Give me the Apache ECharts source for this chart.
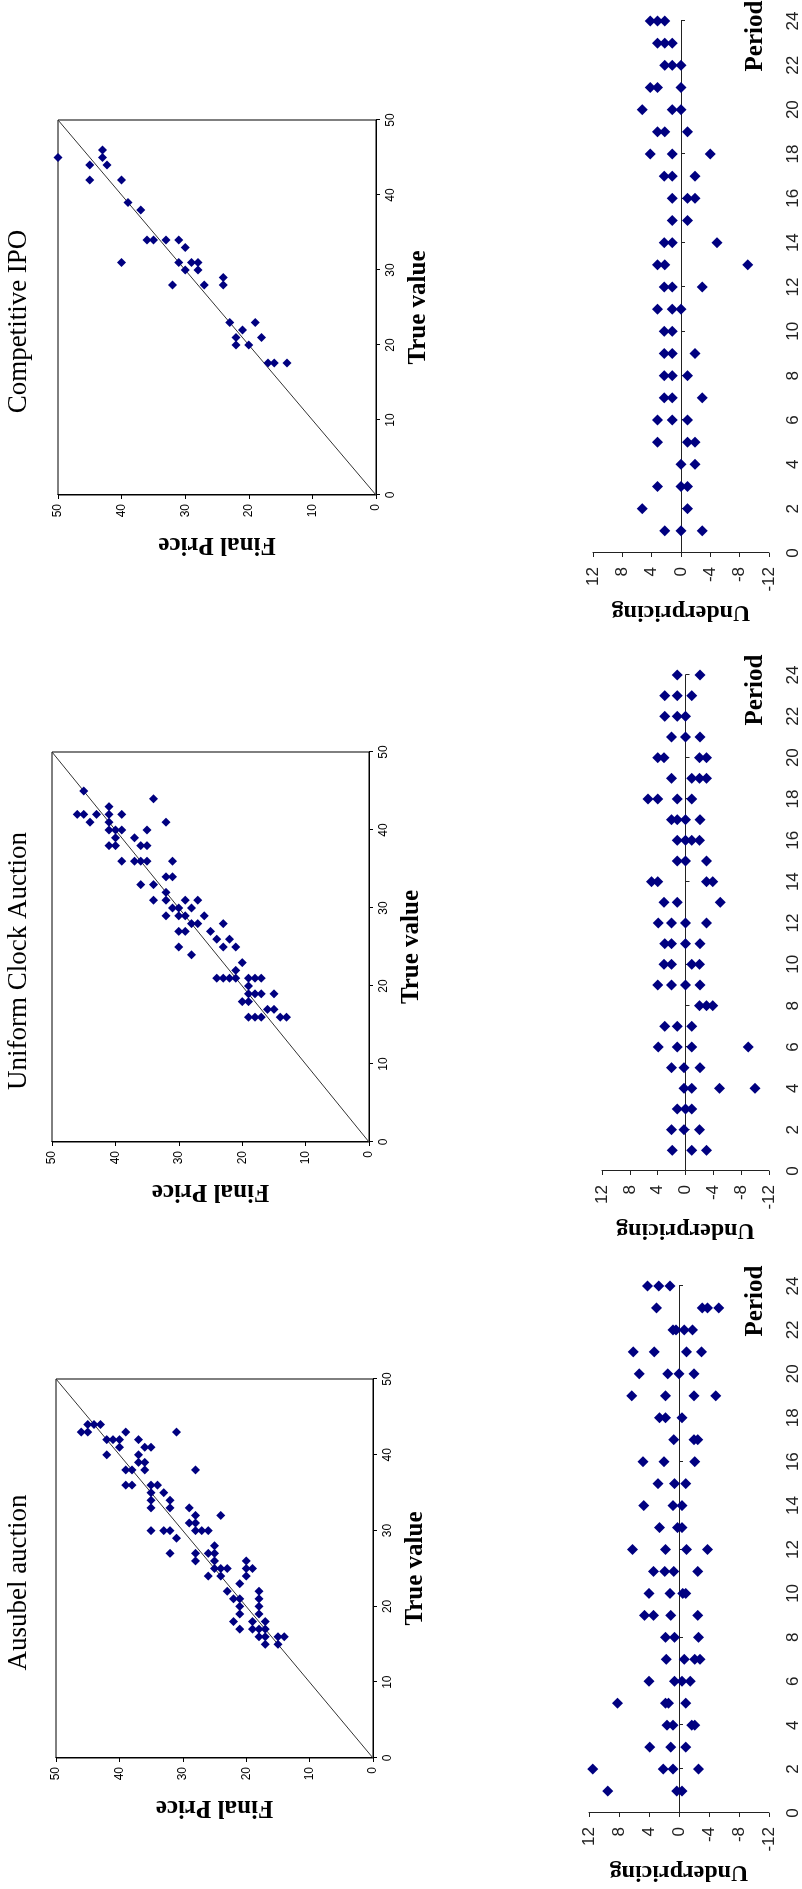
<!DOCTYPE html>
<html>
<head>
<meta charset="utf-8">
<title>Final price vs true value, underpricing by period</title>
<script src="https://cdn.jsdelivr.net/npm/echarts@6/dist/echarts.min.js"></script>
<style>
  html, body { margin: 0; padding: 0; background: #fff; width: 802px; height: 1889px; overflow: hidden; }
  /* the figure is laid out landscape, then turned a quarter turn to the left like the scan */
  #chart { position: absolute; left: 0; top: 0; width: 1889px; height: 802px;
           transform-origin: 0 0; transform: translateY(1889px) rotate(-90deg); }
</style>
</head>
<body>
<div id="chart"></div>
<script>
// panel titles
const panelTitles = ['Ausubel auction', 'Uniform Clock Auction', 'Competitive IPO'];

// [true value, final price]
const ausubelPrices = [
  [43,46],[43,45],[44,45],[44,44],[44,43],[42,42],[42,41],[42,40],[40,42],[41,40],[43,39],[43,31],
  [42,37],[40,37],[39,37],[39,36],[38,36],[38,39],[38,38],[41,36],[41,35],[36,39],[36,38],[36,35],
  [36,34],[35,35],[34,35],[33,35],[35,33],[34,32],[33,32],[30,35],[30,33],[30,32],[29,31],[27,32],
  [38,28],[33,29],[32,28],[31,29],[31,28],[30,27],[30,26],[30,28],[32,24],[27,28],[26,28],[27,26],
  [28,25],[27,25],[26,25],[25,25],[24,26],[25,24],[25,23],[24,24],[22,23],[21,22],[21,21],[23,21],
  [20,21],[19,21],[18,22],[17,21],[26,20],[24,20],[25,20],[25,19],[22,18],[21,18],[20,18],[19,18],
  [18,19],[17,19],[17,18],[16,18],[18,17],[17,17],[16,17],[15,17],[16,15],[16,14],[15,15]
];
const uniformPrices = [
  [45,45],[42,46],[42,45],[41,44],[42,43],[43,41],[42,41],[41,41],[40,41],[40,40],[39,40],[38,41],
  [38,40],[42,39],[40,39],[36,39],[39,37],[36,37],[36,36],[36,35],[38,36],[38,35],[40,35],[44,34],
  [41,32],[33,36],[33,34],[31,34],[34,32],[34,31],[32,32],[31,32],[36,31],[30,31],[29,32],[30,30],
  [29,30],[31,29],[27,30],[27,29],[25,30],[29,29],[30,28],[28,28],[28,27],[31,27],[24,28],[29,26],
  [27,25],[26,24],[28,23],[25,23],[26,22],[25,21],[23,20],[22,21],[21,24],[21,23],[21,22],[21,21],
  [21,19],[21,18],[21,17],[20,19],[19,19],[19,18],[19,17],[19,15],[18,20],[18,19],[17,16],[17,15],
  [16,19],[16,18],[16,17],[16,14],[16,13]
];
const ipoPrices = [
  [45,50],[46,43],[45,43],[44,45],[44,42.3],[42,45],[42,40],[39,39],[38,37],[34,36],[34,35],[34,33],
  [34,31],[33,30],[31,40],[31,31],[31,29],[31,28],[30,30],[30,28],[28,32],[28,27],[29,24],[28,24],
  [23,23],[23,19],[22,21],[21,22],[21,18],[20,22],[20,20],[17.6,17],[17.6,16],[17.6,14]
];
// 45 degree reference line
const diagonal = [[0, 0], [50, 50]];

// [period, underpricing]
const ausubelUnder = [
  [1,9.5],[1,0.3],[1,-0.4],[2,11.5],[2,2.1],[2,0.8],[2,-2.6],[3,3.9],[3,1.1],[3,-0.9],
  [4,1.6],[4,0.8],[4,-1.7],[4,-2.1],[5,8.2],[5,1.8],[5,1.4],[5,-0.9],[6,4.0],[6,0.6],[6,-0.4],[6,-1.5],
  [7,1.7],[7,-0.7],[7,-2.1],[7,-2.8],[8,1.8],[8,0.6],[8,-2.6],[9,4.6],[9,3.4],[9,1.1],[9,-2.5],
  [10,4.0],[10,1.2],[10,-0.5],[10,-0.9],[11,3.4],[11,1.9],[11,0.7],[11,-2.5],[12,6.2],[12,1.8],[12,-1.0],[12,-3.8],
  [13,2.6],[13,0.2],[13,-0.4],[14,4.7],[14,0.8],[14,-0.4],[15,2.8],[15,0.6],[15,-0.9],
  [16,4.8],[16,2.0],[16,-2.1],[17,0.7],[17,-2.0],[17,-2.5],[18,2.6],[18,1.8],[18,-0.4],
  [19,6.3],[19,1.8],[19,-2.0],[19,-4.9],[20,5.3],[20,1.5],[20,0],[20,-2.0],[21,6.1],[21,3.3],[21,-1.0],[21,-3.0],
  [22,0.8],[22,0.4],[22,-0.7],[22,-1.8],[23,3.0],[23,-3.1],[23,-3.8],[23,-5.3],[24,4.2],[24,2.7],[24,1.2]
];
const uniformUnder = [
  [1,1.9],[1,-0.9],[1,-3.0],[2,2.0],[2,0.2],[2,-2.0],[3,1.2],[3,0],[3,-0.9],
  [4,0.2],[4,-0.9],[4,-4.9],[4,-10.0],[5,2.0],[5,0.2],[5,-2.1],[6,3.9],[6,1.2],[6,-0.9],[6,-9.0],
  [7,3.0],[7,1.2],[7,-0.9],[8,-2.0],[8,-3.0],[8,-3.9],[9,4.0],[9,2.0],[9,0],[9,-2.1],
  [10,3.1],[10,2.0],[10,-0.9],[10,-2.0],[11,3.0],[11,2.0],[11,0],[11,-2.1],[12,3.9],[12,2.0],[12,0],[12,-3.0],
  [13,3.1],[13,1.2],[13,-5.0],[14,4.9],[14,4.0],[14,-3.0],[14,-3.9],[15,1.2],[15,0],[15,-3.0],
  [16,1.2],[16,0],[16,-0.9],[16,-2.0],[17,2.0],[17,1.2],[17,0],[17,-2.1],[18,5.4],[18,4.0],[18,1.2],[18,-0.9],
  [19,2.0],[19,-0.9],[19,-2.0],[19,-3.0],[20,4.0],[20,3.1],[20,-2.0],[20,-3.0],[21,2.0],[21,0],[21,-2.1],
  [22,3.0],[22,1.2],[22,0],[23,3.0],[23,1.2],[23,-0.9],[24,1.2],[24,-2.1]
];
const ipoUnder = [
  [1,2.2],[1,0],[1,-2.9],[2,5.3],[2,-0.9],[3,3.2],[3,0],[3,-0.9],[4,0],[4,-1.9],
  [5,3.2],[5,-0.9],[5,-1.9],[6,3.2],[6,1.2],[6,-0.9],[7,2.3],[7,1.2],[7,-2.9],[8,2.3],[8,1.2],[8,-0.9],
  [9,2.3],[9,1.2],[9,-1.9],[10,2.3],[10,1.2],[11,3.2],[11,1.2],[11,0],[12,2.3],[12,1.2],[12,-2.9],
  [13,3.2],[13,2.2],[13,-9.1],[14,2.3],[14,1.2],[14,-4.9],[15,1.2],[15,-0.9],[16,1.2],[16,-0.9],[16,-1.9],
  [17,2.3],[17,1.2],[17,-1.9],[18,4.2],[18,1.2],[18,-4.0],[19,3.2],[19,2.2],[19,-0.9],
  [20,5.3],[20,1.2],[20,0],[21,4.2],[21,3.2],[21,0],[22,2.2],[22,1.2],[22,0],[23,3.2],[23,2.2],[23,1.2],
  [24,4.2],[24,3.2],[24,2.2]
];

const navy = '#000080';
const serif = '"Liberation Serif", "Times New Roman", serif';
const narrow = '"Liberation Sans Narrow", "Arial Narrow", "Liberation Sans", sans-serif';

const chart = echarts.init(document.getElementById('chart'));

// panel boxes, in the unrotated landscape frame
const priceGrids = [
  { left: 131, top: 56, width: 379, height: 317 },
  { left: 747, top: 52, width: 390, height: 317 },
  { left: 1394, top: 58, width: 375, height: 318 }
];
const underGrids = [
  { left: 76, top: 589, width: 527, height: 199 },
  { left: 718, top: 602, width: 496, height: 172 },
  { left: 1336, top: 593, width: 532, height: 196 }
];

const grids = [];
const xAxes = [];
const yAxes = [];
const series = [];

priceGrids.forEach((g, i) => {
  grids.push(Object.assign({ show: true, borderColor: '#000', borderWidth: 1, containLabel: false }, g));
  xAxes.push({
    gridIndex: i, type: 'value', min: 0, max: 50, interval: 10,
    name: 'True value', nameLocation: 'middle', nameGap: 30,
    nameTextStyle: { fontFamily: serif, fontSize: 25, fontWeight: 'bold', color: '#000' },
    axisLine: { lineStyle: { color: '#000', width: 1 } },
    axisTick: { length: 4, lineStyle: { color: '#000' } },
    axisLabel: { fontFamily: narrow, fontSize: 12, color: '#000', margin: 9 },
    splitLine: { show: false }
  });
  yAxes.push({
    gridIndex: i, type: 'value', min: 0, max: 50, interval: 10,
    name: 'Final Price', nameLocation: 'middle', nameGap: 37,
    nameTextStyle: { fontFamily: serif, fontSize: 25, fontWeight: 'bold', color: '#000' },
    axisLine: { show: true, lineStyle: { color: '#000', width: 1 } },
    axisTick: { show: true, length: 4, lineStyle: { color: '#000' } },
    axisLabel: { fontFamily: narrow, fontSize: 12, color: '#000', margin: 9 },
    splitLine: { show: false }
  });
});

underGrids.forEach((g, i) => {
  grids.push(Object.assign({ show: false, containLabel: false }, g));
  xAxes.push({
    gridIndex: 3 + i, type: 'value', min: 0, max: 24, interval: 2,
    axisLine: { onZero: true, lineStyle: { color: '#222', width: 1 } },
    axisTick: { length: 4, lineStyle: { color: '#222' } },
    axisLabel: { fontFamily: narrow, fontSize: 17, color: '#222', margin: 16 },
    splitLine: { show: false }
  });
  yAxes.push({
    gridIndex: 3 + i, type: 'value', min: -12, max: 12, interval: 4,
    name: 'Underpricing', nameLocation: 'middle', nameGap: 47,
    nameTextStyle: { fontFamily: serif, fontSize: 24, fontWeight: 'bold', color: '#000' },
    axisLine: { show: true, onZero: false, lineStyle: { color: '#222', width: 1 } },
    axisTick: { show: true, length: 4, lineStyle: { color: '#222' } },
    axisLabel: { fontFamily: narrow, fontSize: 17, color: '#222', margin: 14 },
    splitLine: { show: false }
  });
});

[ausubelPrices, uniformPrices, ipoPrices].forEach((d, i) => {
  series.push({
    type: 'line', xAxisIndex: i, yAxisIndex: i, data: diagonal,
    symbol: 'none', silent: true, z: 1,
    lineStyle: { color: '#333', width: 1 }
  });
  series.push({
    type: 'scatter', xAxisIndex: i, yAxisIndex: i, data: d,
    symbol: 'diamond', symbolSize: 9, itemStyle: { color: navy, opacity: 1 }, z: 2
  });
});

[ausubelUnder, uniformUnder, ipoUnder].forEach((d, i) => {
  series.push({
    type: 'scatter', xAxisIndex: 3 + i, yAxisIndex: 3 + i, data: d,
    symbol: 'diamond', symbolSize: 11, itemStyle: { color: navy, opacity: 1 }
  });
});

// titles above each price panel, and the "Period" caption under each time axis
const graphics = [];
priceGrids.forEach((g, i) => {
  graphics.push({
    type: 'text', position: [g.left + g.width / 2 - 14, 19],
    style: { text: panelTitles[i], font: '27px ' + serif, fill: '#000',
             textAlign: 'center', textVerticalAlign: 'middle' }
  });
});
underGrids.forEach((g) => {
  graphics.push({
    type: 'text', position: [g.left + g.width - 15, 756],
    style: { text: 'Period', font: 'bold 25px ' + serif, fill: '#000',
             textAlign: 'center', textVerticalAlign: 'middle' }
  });
});

chart.setOption({
  backgroundColor: '#fff',
  animation: false,
  grid: grids,
  xAxis: xAxes,
  yAxis: yAxes,
  series: series,
  graphic: graphics
});
</script>
</body>
</html>
